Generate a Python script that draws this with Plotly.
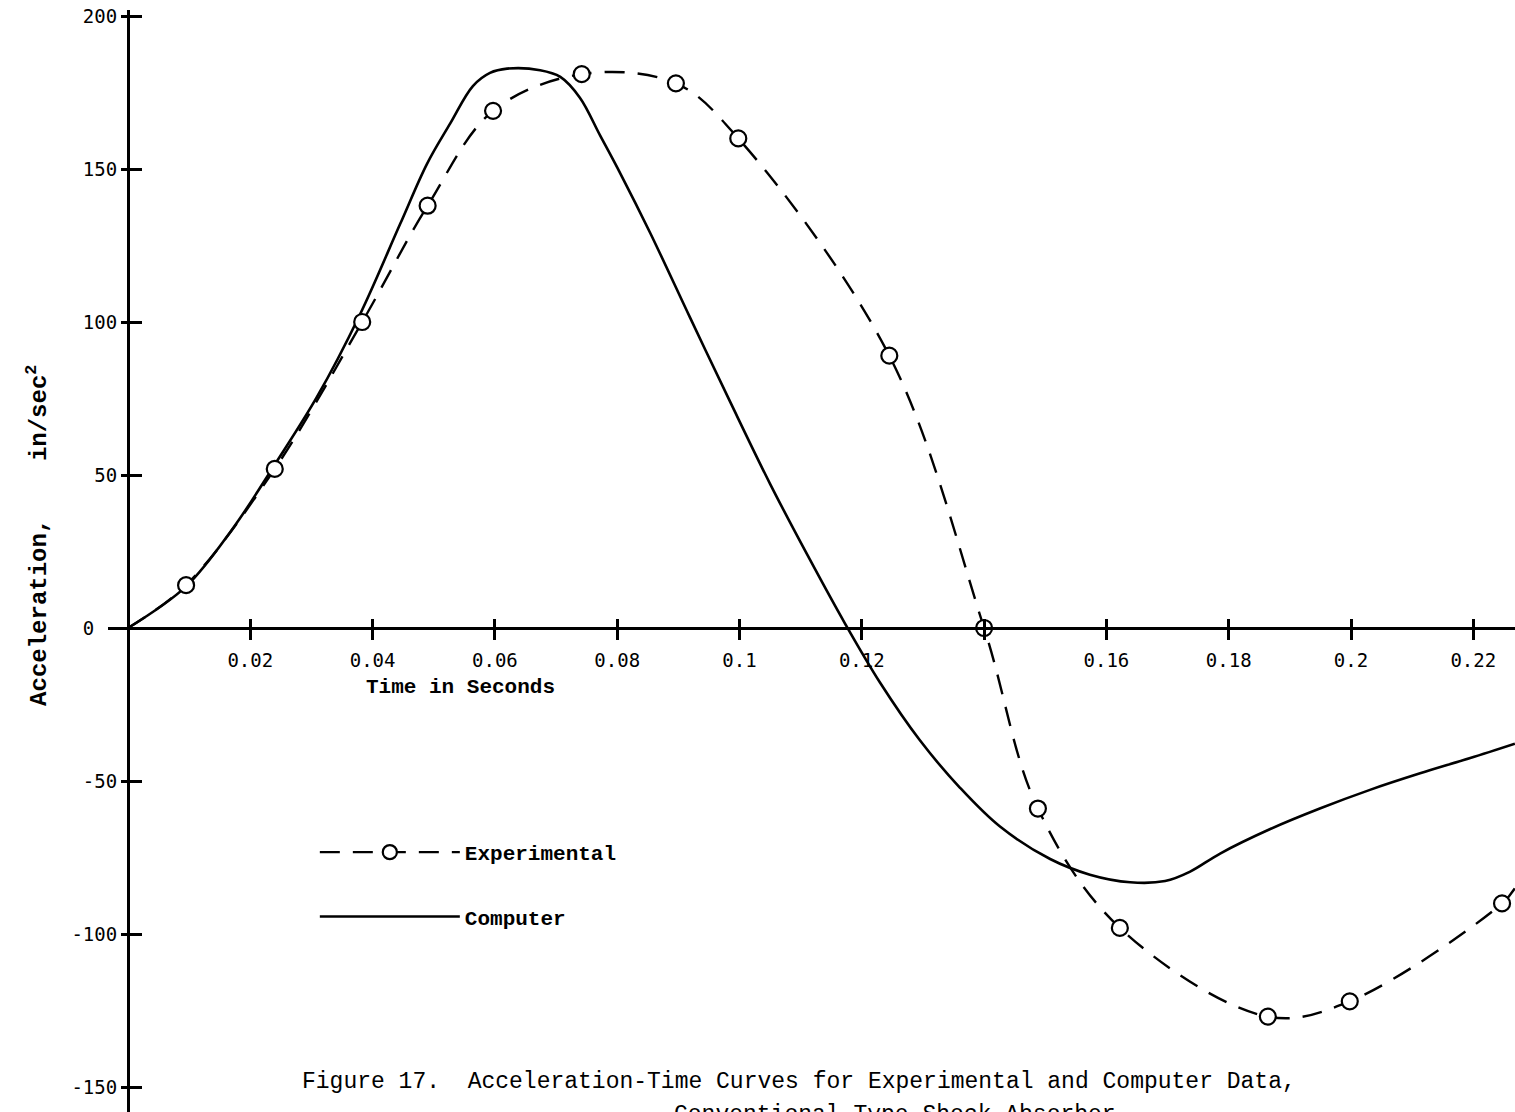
import plotly.graph_objects as go

# Computer solution: acceleration (in/sec^2) against time (s)
comp_t = [0.0, 0.0095, 0.0172, 0.0240, 0.0309, 0.0379, 0.0445, 0.0489, 0.0527, 0.0564,
          0.0592, 0.0620, 0.0674, 0.0707, 0.0739, 0.0772, 0.0805, 0.0854, 0.0919, 0.0985,
          0.1050, 0.1115, 0.1173, 0.1230, 0.1295, 0.1361, 0.1426, 0.1508, 0.1573, 0.1639,
          0.1696, 0.1737, 0.1786, 0.1868, 0.1949, 0.2031, 0.2113, 0.2195, 0.2268]
comp_a = [0.0, 13.6, 32.7, 53.4, 75.5, 102.3, 132.0, 151.7, 164.9, 177.1,
          181.4, 182.8, 182.3, 180.1, 173.3, 161.0, 148.6, 129.1, 101.5, 73.8,
          47.1, 22.4, 1.3, -17.9, -36.7, -52.3, -64.9, -75.5, -80.6, -83.1,
          -82.7, -79.6, -73.7, -65.7, -59.0, -52.9, -47.5, -42.5, -37.8]

# Experimental readings (circles); the faired dashed curve starts at the origin
# and runs on past the last reading to the edge of the sheet
exp_t = [0.0, 0.0095, 0.0240, 0.0383, 0.0490, 0.0597, 0.0742, 0.0896, 0.0998, 0.1245,
         0.1400, 0.1488, 0.1622, 0.1864, 0.1998, 0.2247, 0.2268]
exp_a = [0.0, 14, 52, 100, 138, 169, 181, 178, 160, 89,
         0, -59, -98, -127, -122, -90, -85]
exp_is_reading = [False] + [True] * 15 + [False]

x_ticks = [0.02, 0.04, 0.06, 0.08, 0.10, 0.12, 0.14, 0.16, 0.18, 0.20, 0.22]
x_tick_text = ["0.02", "0.04", "0.06", "0.08", "0.1", "0.12", "", "0.16", "0.18", "0.2", "0.22"]
y_ticks = [200, 150, 100, 50, 0, -50, -100, -150]
y_tick_text = ["200", "150", "100", "50", "0\u00a0\u00a0", "-50", "-100", "-150"]

X_RANGE = [-0.00327, 0.22682]
Y_RANGE = [-158.17, 201.96]
x_axis_pos = (0 - Y_RANGE[0]) / (Y_RANGE[1] - Y_RANGE[0])
y_axis_pos = (0 - X_RANGE[0]) / (X_RANGE[1] - X_RANGE[0])

TICK_FONT = dict(family="DejaVu Sans Mono", size=19, color="black")
BOLD_FONT = dict(family="Liberation Mono", size=21, color="black", weight="bold")
YTITLE_FONT = dict(family="Liberation Mono", size=24, color="black", weight="bold")
CAPTION_FONT = dict(family="Liberation Mono", size=23, color="black")

fig = go.Figure()

fig.add_trace(go.Scatter(
    x=exp_t, y=exp_a, xaxis="x2", yaxis="y2",
    mode="lines+markers", name="Experimental", legendrank=1, legendgroup="e",
    line=dict(color="black", width=2.4, dash="20px,13px", shape="spline"),
    marker=dict(symbol="circle", color="#ffffff", opacity=1,
                size=[16 if r else 0 for r in exp_is_reading],
                line=dict(color="black", width=2.2)),
    cliponaxis=False,
))

fig.add_trace(go.Scatter(
    x=comp_t, y=comp_a, xaxis="x", yaxis="y",
    mode="lines", name="Computer", legendrank=2, legendgroup="c",
    line=dict(color="black", width=2.6, shape="spline"),
))

axis_common = dict(showgrid=False, zeroline=False, tickcolor="black", tickwidth=2.5)

fig.update_layout(
    width=1515, height=1112,
    margin=dict(l=108, r=0, t=10, b=0),
    paper_bgcolor="white", plot_bgcolor="white",
    xaxis=dict(range=X_RANGE, anchor="free", position=x_axis_pos,
               showline=True, linecolor="black", linewidth=3,
               ticks="outside", ticklen=10, tickvals=x_ticks, ticktext=x_tick_text,
               tickfont=TICK_FONT, ticklabelstandoff=4, **axis_common),
    xaxis2=dict(range=X_RANGE, overlaying="x", anchor="free", position=x_axis_pos,
                showline=False, ticks="inside", ticklen=9, tickvals=x_ticks,
                showticklabels=False, **axis_common),
    yaxis=dict(range=Y_RANGE, anchor="free", position=y_axis_pos, side="left",
               showline=True, linecolor="black", linewidth=3,
               ticks="outside", ticklen=6, tickvals=y_ticks, ticktext=y_tick_text,
               tickfont=TICK_FONT, **axis_common),
    yaxis2=dict(range=Y_RANGE, overlaying="y", anchor="free", position=y_axis_pos,
                side="left", showline=False, ticks="inside", ticklen=13,
                tickvals=y_ticks, showticklabels=False, **axis_common),
    showlegend=True,
    legend=dict(x=0.147, y=0.2541, xanchor="left", yanchor="top",
                bgcolor="rgba(0,0,0,0)", font=BOLD_FONT, itemwidth=140,
                tracegroupgap=34),
    annotations=[
        dict(text="Time in Seconds", xref="paper", yref="paper",
             x=0.2502, y=0.3848, xanchor="center", yanchor="middle",
             showarrow=False, font=BOLD_FONT),
        dict(text="Acceleration,\u00a0\u00a0\u00a0\u00a0in/sec<sup>2</sup>",
             xref="paper", yref="paper", x=-0.0498, y=0.5236, textangle=-90,
             xanchor="center", yanchor="middle", showarrow=False, font=YTITLE_FONT),
        dict(text="Figure 17.\u00a0\u00a0Acceleration-Time Curves for Experimental and Computer Data,",
             xref="paper", yref="paper", x=0.1365, y=0.0272, xanchor="left",
             yanchor="middle", showarrow=False, font=CAPTION_FONT),
        dict(text="Conventional-Type Shock Absorber",
             xref="paper", yref="paper", x=0.4009, y=0.0109, xanchor="left",
             yanchor="top", showarrow=False, font=CAPTION_FONT),
    ],
)

fig.write_html("out.html")
